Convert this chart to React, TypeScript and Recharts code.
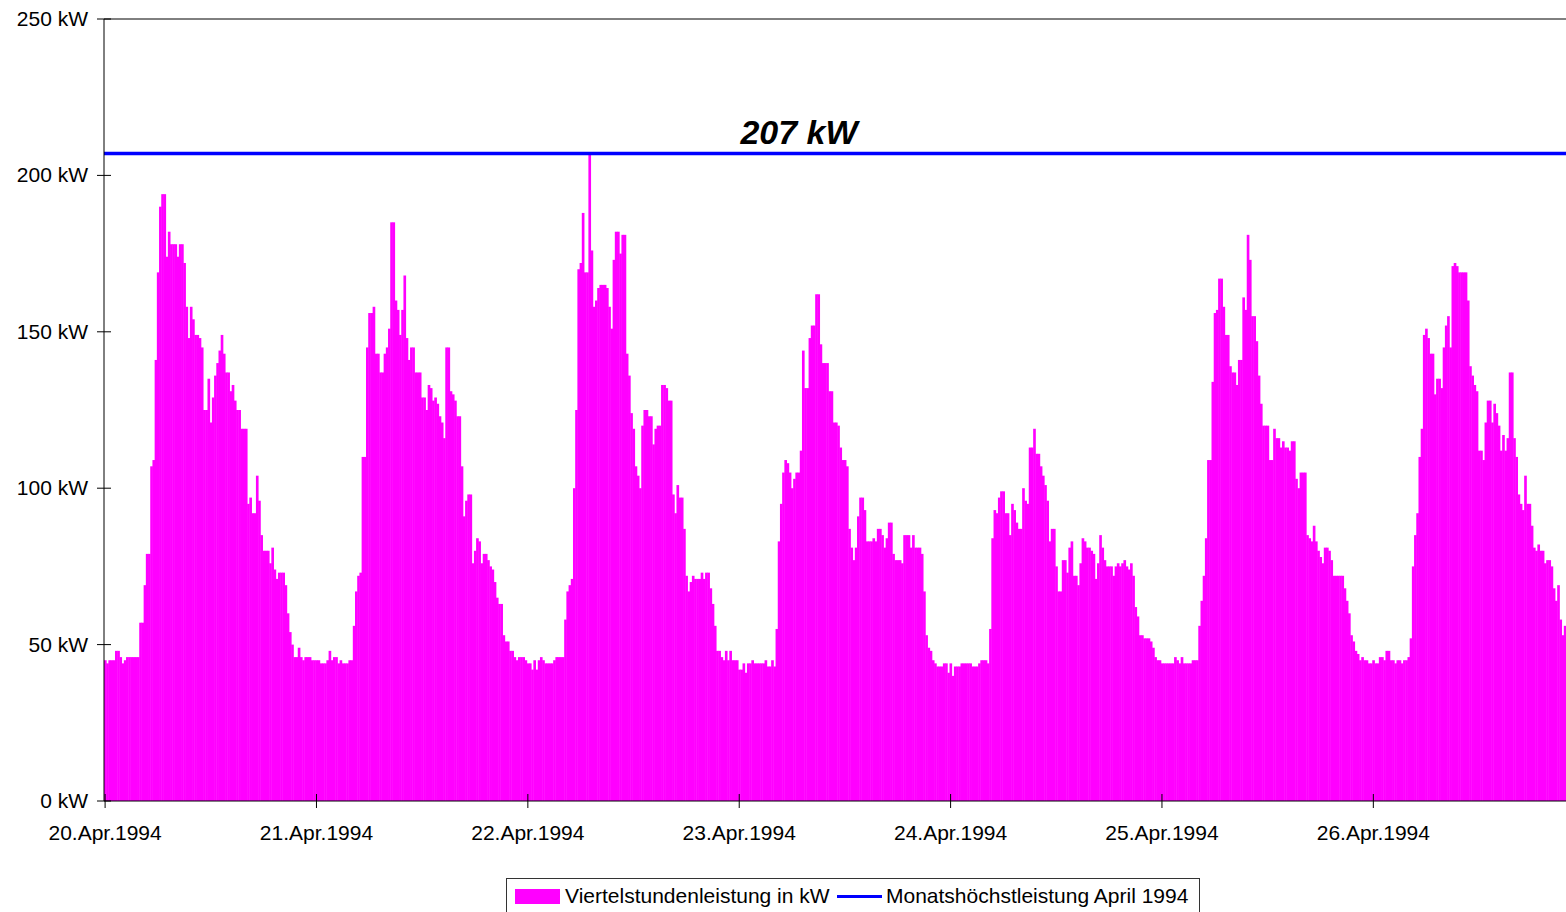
import React from 'react';
import { BarChart, Bar, XAxis, YAxis, ReferenceLine } from 'recharts';

// ---- Data -------------------------------------------------------------
const QUARTERS_PER_DAY = 96;
const DAY_LABELS = [
  '20.Apr.1994',
  '21.Apr.1994',
  '22.Apr.1994',
  '23.Apr.1994',
  '24.Apr.1994',
  '25.Apr.1994',
  '26.Apr.1994',
];
const Y_TICKS = [0, 50, 100, 150, 200, 250];
const MONTH_MAX_KW = 207;
const SERIES_LOAD = 'Viertelstundenleistung in kW';
const SERIES_MAX = 'Monatshöchstleistung April 1994';

// quarter-hour load values (kW), one array per day
const APR_20 = [
  45, 44, 45, 45, 45, 48, 48, 46, 44, 45, 46, 46, 46, 46, 46, 46,
  57, 57, 69, 79, 79, 107, 109, 141, 169, 190, 194, 194, 174, 182, 178, 178,
  178, 174, 178, 178, 172, 158, 148, 158, 154, 149, 149, 148, 145, 125, 125, 135,
  121, 129, 136, 140, 144, 149, 143, 137, 137, 131, 133, 128, 125, 125, 119, 119,
  119, 95, 97, 92, 92, 104, 96, 85, 80, 80, 80, 76, 81, 74, 71, 73,
  73, 73, 69, 60, 54, 50, 46, 46, 49, 46, 45, 46, 46, 46, 45, 45,
];
const APR_21 = [
  45, 45, 44, 44, 44, 45, 48, 45, 46, 46, 44, 45, 44, 44, 44, 45,
  45, 56, 67, 72, 73, 110, 110, 145, 156, 156, 158, 143, 143, 137, 137, 143,
  145, 151, 185, 185, 160, 157, 149, 157, 168, 148, 141, 145, 145, 137, 137, 137,
  129, 129, 125, 133, 132, 128, 129, 127, 123, 121, 116, 145, 145, 131, 130, 128,
  123, 123, 107, 91, 96, 98, 98, 76, 80, 84, 83, 76, 79, 79, 77, 75,
  74, 70, 65, 63, 63, 53, 51, 51, 48, 48, 46, 45, 46, 46, 46, 45,
];
const APR_22 = [
  44, 44, 42, 45, 42, 45, 46, 45, 44, 44, 44, 44, 45, 46, 46, 46,
  46, 58, 67, 69, 71, 100, 125, 170, 172, 188, 169, 169, 207, 176, 158, 160,
  164, 165, 165, 165, 164, 158, 151, 173, 182, 182, 175, 181, 181, 143, 136, 124,
  119, 107, 104, 100, 120, 125, 125, 123, 123, 114, 119, 120, 120, 133, 133, 132,
  128, 128, 98, 92, 101, 97, 97, 87, 72, 67, 70, 72, 71, 71, 71, 73,
  71, 73, 73, 68, 63, 56, 48, 48, 46, 45, 48, 45, 48, 45, 45, 45,
];
const APR_23 = [
  42, 42, 44, 41, 44, 44, 45, 44, 44, 44, 44, 44, 45, 43, 43, 45,
  43, 55, 83, 95, 105, 109, 108, 105, 100, 103, 105, 105, 112, 144, 132, 132,
  148, 152, 152, 162, 162, 146, 140, 140, 140, 131, 131, 121, 121, 120, 113, 109,
  109, 107, 87, 81, 77, 81, 91, 97, 97, 93, 83, 83, 83, 84, 83, 87,
  87, 85, 81, 84, 89, 89, 79, 77, 77, 77, 76, 85, 85, 85, 81, 85,
  81, 81, 81, 79, 67, 53, 49, 48, 45, 44, 43, 43, 43, 44, 44, 41,
];
const APR_24 = [
  44, 40, 43, 43, 43, 44, 44, 44, 44, 44, 43, 43, 43, 44, 45, 45,
  45, 44, 55, 84, 93, 92, 97, 99, 99, 92, 92, 85, 95, 93, 89, 87,
  87, 100, 96, 95, 113, 113, 119, 111, 111, 107, 104, 101, 96, 83, 87, 87,
  75, 67, 67, 77, 77, 73, 81, 83, 72, 72, 69, 76, 84, 83, 81, 81,
  80, 79, 71, 76, 85, 81, 77, 75, 75, 75, 72, 75, 76, 75, 76, 77,
  75, 74, 76, 72, 62, 59, 53, 53, 52, 52, 52, 51, 49, 46, 45, 45,
];
const APR_25 = [
  44, 44, 44, 44, 44, 44, 46, 45, 44, 46, 44, 44, 44, 44, 45, 45,
  45, 56, 64, 72, 84, 109, 109, 134, 156, 157, 167, 167, 158, 149, 149, 139,
  137, 137, 133, 141, 141, 161, 157, 181, 173, 155, 155, 147, 136, 127, 120, 120,
  120, 109, 109, 119, 116, 116, 113, 115, 113, 113, 112, 115, 115, 103, 100, 105,
  105, 105, 85, 84, 83, 88, 83, 80, 78, 76, 81, 81, 80, 77, 72, 72,
  72, 72, 72, 68, 64, 60, 53, 51, 48, 47, 45, 46, 45, 45, 44, 44,
];
// last day is cut off at the right edge of the picture
const APR_26 = [
  45, 44, 44, 46, 46, 45, 48, 48, 45, 45, 44, 45, 45, 44, 45, 45,
  46, 52, 75, 85, 92, 110, 119, 149, 151, 148, 143, 143, 130, 135, 135, 132,
  145, 152, 155, 145, 171, 172, 171, 169, 169, 169, 169, 160, 139, 136, 133, 131,
  112, 112, 109, 121, 128, 128, 121, 127, 124, 120, 112, 117, 112, 116, 137, 137,
  116, 110, 98, 95, 93, 104, 95, 95, 88, 81, 80, 82, 80, 80, 76, 77,
  77, 75, 68, 64, 69, 58, 53, 56,
];

const LOAD = [...APR_20, ...APR_21, ...APR_22, ...APR_23, ...APR_24, ...APR_25, ...APR_26];
const chartData = LOAD.map((kw, i) => ({ i, kw }));
const X_TICKS = DAY_LABELS.map((_, d) => d * QUARTERS_PER_DAY);

// ---- Styling ------------------------------------------------------------
const FONT = '"Liberation Sans", Arial, sans-serif';
const MAGENTA = '#FF00FF';
const BLUE = '#0000FF';
const CHART_W = 1566;
const CHART_H = 912;
const Y_AXIS_W = 104;
const PLOT_W = CHART_W - Y_AXIS_W;
// columns touch each other (gap width 0): draw each one a full band wide, with a hair of overlap
const BAND_W = PLOT_W / LOAD.length;

const Column = (props: any) => {
  const { x, y, height } = props;
  if (!height || height <= 0) return null;
  return <rect x={x} y={y} width={BAND_W + 0.45} height={height} fill={MAGENTA} />;
};

const XTick = (props: any) => {
  const { x, y, payload } = props;
  const label = DAY_LABELS[Math.round(payload.value / QUARTERS_PER_DAY)];
  return (
    <g>
      <line x1={x} x2={x} y1={y - 14} y2={y - 7} stroke="#000" strokeWidth={1} />
      <text x={x} y={y + 32} textAnchor="middle" fontSize={21} fontFamily={FONT} fill="#000">
        {label}
      </text>
    </g>
  );
};

const YTick = (props: any) => {
  const { x, y, payload } = props;
  return (
    <g>
      <line x1={x + 16} x2={x + 23} y1={y} y2={y} stroke="#000" strokeWidth={1} />
      <text x={x} y={y} dy={7} textAnchor="end" fontSize={21} fontFamily={FONT} fill="#000">
        {`${payload.value} kW`}
      </text>
    </g>
  );
};

const MaxLabel = (props: any) => {
  const vb = (props && props.viewBox) || { x: 104, y: 153.5 };
  return (
    <text
      x={vb.x + 695}
      y={vb.y - 9.5}
      textAnchor="middle"
      fontSize={34}
      fontWeight="bold"
      fontStyle="italic"
      fontFamily={FONT}
      fill="#000"
    >
      {`${MONTH_MAX_KW} kW`}
    </text>
  );
};

export default function App() {
  return (
    <div
      style={{
        position: 'absolute',
        left: 0,
        top: 0,
        width: CHART_W,
        height: CHART_H,
        background: '#fff',
        overflow: 'hidden',
        fontFamily: FONT,
      }}
    >
      <BarChart
        width={CHART_W}
        height={CHART_H}
        data={chartData}
        margin={{ top: 19, right: 0, bottom: 0, left: 0 }}
        barCategoryGap={0}
        barGap={0}
      >
        <XAxis
          dataKey="i"
          type="category"
          ticks={X_TICKS}
          interval={0}
          height={111}
          tickSize={7}
          tickMargin={0}
          axisLine={{ stroke: '#000', strokeWidth: 1 }}
          tickLine={{ stroke: '#000', strokeWidth: 1 }}
          tick={<XTick />}
        />
        <YAxis
          type="number"
          domain={[0, 250]}
          ticks={Y_TICKS}
          interval={0}
          width={Y_AXIS_W}
          tickSize={7}
          tickMargin={9}
          axisLine={{ stroke: '#000', strokeWidth: 1 }}
          tickLine={{ stroke: '#000', strokeWidth: 1 }}
          tick={<YTick />}
        />
        <Bar
          dataKey="kw"
          name={SERIES_LOAD}
          fill={MAGENTA}
          shape={<Column />}
          isAnimationActive={false}
        />
        <ReferenceLine y={250} stroke="#000" strokeWidth={1} />
        <ReferenceLine y={MONTH_MAX_KW} stroke={BLUE} strokeWidth={3.5} label={MaxLabel} />
      </BarChart>

      {/* legend */}
      <div
        style={{
          position: 'absolute',
          left: 506,
          top: 878,
          width: 694,
          height: 44,
          border: '1px solid #333',
          boxSizing: 'border-box',
          background: '#fff',
        }}
      >
        <div style={{ position: 'absolute', left: 8, top: 10, width: 45, height: 15, background: MAGENTA }} />
        <span
          style={{
            position: 'absolute',
            left: 58,
            top: 5,
            fontSize: 21,
            lineHeight: '24px',
            whiteSpace: 'nowrap',
            color: '#000',
            fontFamily: FONT,
          }}
        >
          {SERIES_LOAD}
        </span>
        <div style={{ position: 'absolute', left: 330, top: 16, width: 45, height: 3, background: BLUE }} />
        <span
          style={{
            position: 'absolute',
            left: 379,
            top: 5,
            fontSize: 21,
            lineHeight: '24px',
            whiteSpace: 'nowrap',
            color: '#000',
            fontFamily: FONT,
          }}
        >
          {SERIES_MAX}
        </span>
      </div>
    </div>
  );
}
